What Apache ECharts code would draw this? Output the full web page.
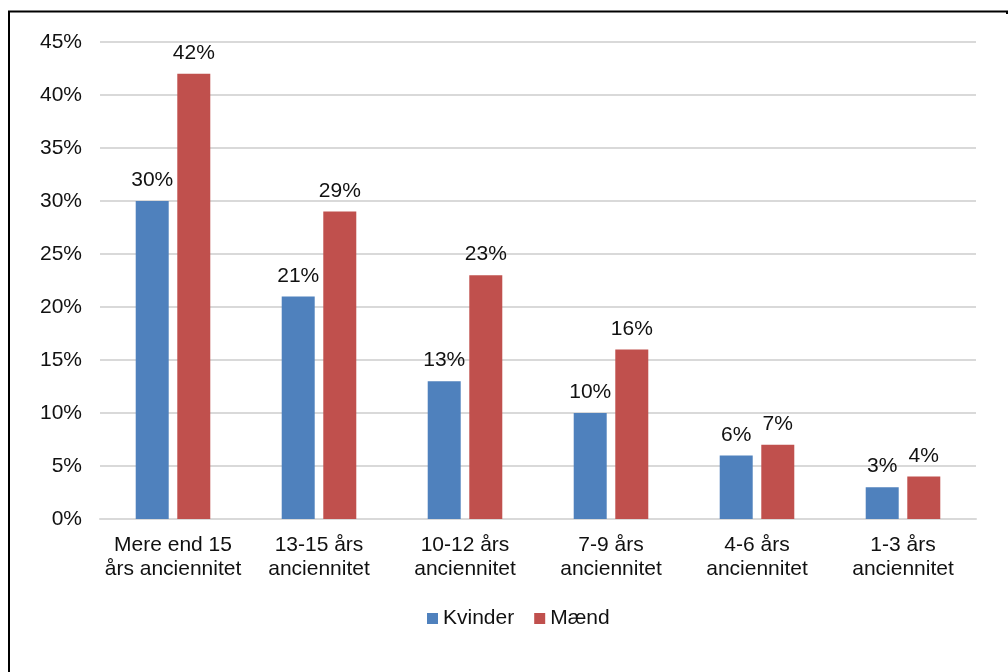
<!DOCTYPE html>
<html>
<head>
<meta charset="utf-8">
<script src="https://cdn.jsdelivr.net/npm/echarts@6/dist/echarts.min.js"></script>
<style>
html,body{margin:0;padding:0;background:#fff;}
#c{width:1008px;height:672px;}
</style>
</head>
<body>
<div id="c"></div>
<script>
const categories = ["Mere end 15\nårs anciennitet", "13-15 års\nanciennitet", "10-12 års\nanciennitet", "7-9 års\nanciennitet", "4-6 års\nanciennitet", "1-3 års\nanciennitet"];
const kvinder = [30, 21, 13, 10, 6, 3];
const maend = [42, 29, 23, 16, 7, 4];
const seriesNames = ["Kvinder", "Mænd"];

const FONT = "'Liberation Sans', Arial, sans-serif";
const FS = 21;
const chart = echarts.init(document.getElementById('c'));
const labelCfg = {
  show: true, position: 'top', distance: 10,
  formatter: p => p.value + '%',
  color: '#111', fontSize: FS, fontFamily: FONT
};
chart.setOption({
  animation: false,
  grid: { left: 100, right: 32, top: 42, bottom: 153, containLabel: false },
  legend: {
    data: seriesNames, left: 427, top: 608, padding: 0,
    itemWidth: 11, itemHeight: 11, itemGap: 20, icon: 'rect',
    textStyle: { color: '#111', fontSize: FS, fontFamily: FONT }
  },
  xAxis: {
    type: 'category', data: categories,
    axisLine: { lineStyle: { color: '#d9d9d9', width: 2 } },
    axisTick: { show: false },
    axisLabel: { color: '#111', fontSize: FS, fontFamily: FONT, lineHeight: 24, margin: 14, interval: 0 }
  },
  yAxis: {
    type: 'value', min: 0, max: 45, interval: 5,
    axisLine: { show: false }, axisTick: { show: false },
    splitLine: { lineStyle: { color: '#d9d9d9', width: 2 } },
    axisLabel: { formatter: '{value}%', color: '#111', fontSize: FS, fontFamily: FONT, margin: 18 }
  },
  series: [
    { name: seriesNames[0], type: 'bar', data: kvinder, barWidth: '22.6%', barGap: '26%',
      itemStyle: { color: '#4f81bd' }, label: labelCfg },
    { name: seriesNames[1], type: 'bar', data: maend, barWidth: '22.6%', barGap: '26%',
      itemStyle: { color: '#c0504d' }, label: labelCfg }
  ],
  graphic: [{
    type: 'polyline', silent: true,
    shape: { points: [[9, 672], [9, 11.5], [1007, 11.5], [1007, 14]] },
    style: { stroke: '#000', lineWidth: 2, fill: null }
  }]
});
</script>
</body>
</html>
